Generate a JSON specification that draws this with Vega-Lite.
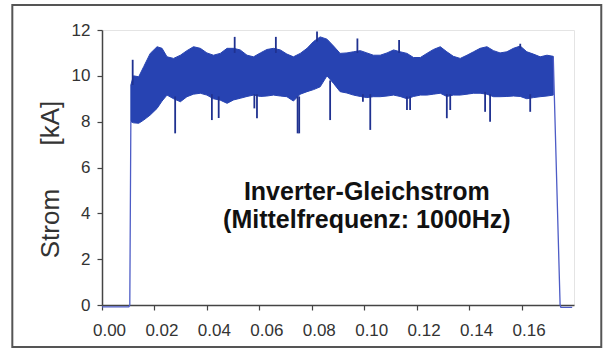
{
  "$schema": "https://vega.github.io/schema/vega-lite/v6.json",
  "width": 472,
  "height": 275,
  "autosize": {"type": "none"},
  "padding": {"left": 102, "top": 30, "right": 30, "bottom": 49},
  "background": "white",
  "config": {
    "view": {"stroke": "#e4e4e4", "strokeWidth": 1},
    "axis": {
      "grid": false,
      "domainColor": "#444",
      "domainWidth": 1.5,
      "tickColor": "#444",
      "tickWidth": 1.2,
      "tickSize": 5,
      "labelColor": "#333",
      "labelFont": "Liberation Sans",
      "labelFontSize": 17,
      "titleFont": "Liberation Sans",
      "titleColor": "#333",
      "titleFontWeight": "normal"
    }
  },
  "data": {"values": [{}]},
  "datasets": {
    "band": [
      {"t": 0.0110, "hi": 9.6, "lo": 8.0},
      {"t": 0.0120, "hi": 10.0, "lo": 7.95},
      {"t": 0.0140, "hi": 9.96, "lo": 7.93},
      {"t": 0.0159, "hi": 10.4, "lo": 8.07},
      {"t": 0.0184, "hi": 10.98, "lo": 8.29},
      {"t": 0.0210, "hi": 11.27, "lo": 8.58},
      {"t": 0.0229, "hi": 11.2, "lo": 8.9},
      {"t": 0.0248, "hi": 10.83, "lo": 9.16},
      {"t": 0.0273, "hi": 10.76, "lo": 9.0},
      {"t": 0.0299, "hi": 10.9, "lo": 8.87},
      {"t": 0.0324, "hi": 11.1, "lo": 9.09},
      {"t": 0.0349, "hi": 11.27, "lo": 9.2},
      {"t": 0.0375, "hi": 11.2, "lo": 9.24},
      {"t": 0.0400, "hi": 11.0, "lo": 9.16},
      {"t": 0.0425, "hi": 10.9, "lo": 9.0},
      {"t": 0.0451, "hi": 10.98, "lo": 8.94},
      {"t": 0.0477, "hi": 11.2, "lo": 8.8},
      {"t": 0.0502, "hi": 11.2, "lo": 8.95},
      {"t": 0.0527, "hi": 11.13, "lo": 9.02},
      {"t": 0.0553, "hi": 10.9, "lo": 9.1},
      {"t": 0.0578, "hi": 10.83, "lo": 9.16},
      {"t": 0.0604, "hi": 11.0, "lo": 9.1},
      {"t": 0.0629, "hi": 11.15, "lo": 9.12},
      {"t": 0.0654, "hi": 11.2, "lo": 9.16},
      {"t": 0.0680, "hi": 11.13, "lo": 9.12},
      {"t": 0.0705, "hi": 10.95, "lo": 9.09},
      {"t": 0.0730, "hi": 10.83, "lo": 8.9},
      {"t": 0.0756, "hi": 10.98, "lo": 9.2},
      {"t": 0.0782, "hi": 11.2, "lo": 9.31},
      {"t": 0.0807, "hi": 11.5, "lo": 9.4},
      {"t": 0.0832, "hi": 11.7, "lo": 9.52},
      {"t": 0.0858, "hi": 11.6, "lo": 10.0},
      {"t": 0.0883, "hi": 11.3, "lo": 9.67},
      {"t": 0.0908, "hi": 10.98, "lo": 9.31},
      {"t": 0.0934, "hi": 11.0, "lo": 9.25},
      {"t": 0.0959, "hi": 11.05, "lo": 9.16},
      {"t": 0.0985, "hi": 11.1, "lo": 9.1},
      {"t": 0.1010, "hi": 11.0, "lo": 9.05},
      {"t": 0.1035, "hi": 10.9, "lo": 9.09},
      {"t": 0.1061, "hi": 10.9, "lo": 9.09},
      {"t": 0.1087, "hi": 11.0, "lo": 9.12},
      {"t": 0.1112, "hi": 11.13, "lo": 9.16},
      {"t": 0.1137, "hi": 11.05, "lo": 9.1},
      {"t": 0.1163, "hi": 10.98, "lo": 9.0},
      {"t": 0.1188, "hi": 10.8, "lo": 9.1},
      {"t": 0.1214, "hi": 10.8, "lo": 9.16},
      {"t": 0.1239, "hi": 10.98, "lo": 9.16},
      {"t": 0.1264, "hi": 11.15, "lo": 9.2},
      {"t": 0.1290, "hi": 11.27, "lo": 9.24},
      {"t": 0.1315, "hi": 11.05, "lo": 9.1},
      {"t": 0.1340, "hi": 10.85, "lo": 9.16},
      {"t": 0.1366, "hi": 10.76, "lo": 9.16},
      {"t": 0.1392, "hi": 10.9, "lo": 9.2},
      {"t": 0.1417, "hi": 11.05, "lo": 9.24},
      {"t": 0.1442, "hi": 11.2, "lo": 9.24},
      {"t": 0.1468, "hi": 11.27, "lo": 9.2},
      {"t": 0.1493, "hi": 11.1, "lo": 9.09},
      {"t": 0.1518, "hi": 11.0, "lo": 9.09},
      {"t": 0.1544, "hi": 11.05, "lo": 9.1},
      {"t": 0.1569, "hi": 11.2, "lo": 9.12},
      {"t": 0.1595, "hi": 11.3, "lo": 9.1},
      {"t": 0.1620, "hi": 11.05, "lo": 9.0},
      {"t": 0.1645, "hi": 10.95, "lo": 9.05},
      {"t": 0.1671, "hi": 10.83, "lo": 9.09},
      {"t": 0.1697, "hi": 10.9, "lo": 9.12},
      {"t": 0.1721, "hi": 10.85, "lo": 9.16}
    ],
    "spikes": [
      {"t": 0.0117, "a": 9.6, "b": 10.7},
      {"t": 0.0279, "a": 9.1, "b": 7.49},
      {"t": 0.0419, "a": 9.2, "b": 8.07},
      {"t": 0.0445, "a": 9.1, "b": 8.16},
      {"t": 0.0581, "a": 9.2, "b": 8.58},
      {"t": 0.0591, "a": 9.2, "b": 8.15},
      {"t": 0.0746, "a": 9.1, "b": 7.49},
      {"t": 0.0752, "a": 9.1, "b": 7.49},
      {"t": 0.0870, "a": 9.8, "b": 8.07},
      {"t": 0.0995, "a": 9.2, "b": 8.87},
      {"t": 0.1023, "a": 9.2, "b": 7.64},
      {"t": 0.1163, "a": 9.1, "b": 8.51},
      {"t": 0.1175, "a": 9.1, "b": 8.51},
      {"t": 0.1315, "a": 9.2, "b": 8.15},
      {"t": 0.1328, "a": 9.2, "b": 8.51},
      {"t": 0.1461, "a": 9.3, "b": 8.43},
      {"t": 0.1480, "a": 9.2, "b": 8.0},
      {"t": 0.1633, "a": 9.2, "b": 8.43},
      {"t": 0.0506, "a": 11.0, "b": 11.7},
      {"t": 0.0663, "a": 11.0, "b": 11.7},
      {"t": 0.0820, "a": 11.5, "b": 11.93},
      {"t": 0.0974, "a": 11.0, "b": 11.63},
      {"t": 0.1133, "a": 11.0, "b": 11.56},
      {"t": 0.1595, "a": 11.2, "b": 11.4}
    ],
    "edges": [
      {"seg": "start", "t": 0.0, "i": -0.08},
      {"seg": "start", "t": 0.0102, "i": -0.08},
      {"seg": "start", "t": 0.0106, "i": 0.0},
      {"seg": "start", "t": 0.0110, "i": 8.0},
      {"seg": "end", "t": 0.1721, "i": 10.8},
      {"seg": "end", "t": 0.1747, "i": 0.0},
      {"seg": "end", "t": 0.1750, "i": -0.1},
      {"seg": "end", "t": 0.1793, "i": -0.1}
    ]
  },
  "layer": [
    {
      "data": {"name": "band"},
      "mark": {"type": "area", "color": "#2743b2", "opacity": 1, "stroke": "#2743b2", "strokeWidth": 1},
      "encoding": {
        "x": {
          "field": "t", "type": "quantitative",
          "scale": {"domain": [0, 0.18], "nice": false},
          "axis": {
            "values": [0, 0.02, 0.04, 0.06, 0.08, 0.1, 0.12, 0.14, 0.16],
            "format": ".2f",
            "title": null,
            "labelPadding": 12,
            "labelOffset": 7,
            "labelFlush": false
          }
        },
        "y": {
          "field": "hi", "type": "quantitative",
          "scale": {"domain": [0, 12], "nice": false},
          "axis": {
            "values": [0, 2, 4, 6, 8, 10, 12],
            "format": "d",
            "title": "Strom\u00a0\u00a0\u00a0\u00a0\u00a0\u00a0[kA]",
            "titleFontSize": 26,
            "titleX": -44,
            "titleY": 149,
            "titleAngle": -90,
            "titleAlign": "center",
            "titleBaseline": "alphabetic",
            "labelPadding": 7,
            "labelFlush": false
          }
        },
        "y2": {"field": "lo"}
      }
    },
    {
      "data": {"name": "spikes"},
      "mark": {"type": "rule", "color": "#1f3190", "strokeWidth": 1.8},
      "encoding": {
        "x": {"field": "t", "type": "quantitative"},
        "y": {"field": "a", "type": "quantitative"},
        "y2": {"field": "b"}
      }
    },
    {
      "data": {"name": "edges"},
      "mark": {"type": "line", "color": "#4d5cc6", "strokeWidth": 1.3},
      "encoding": {
        "x": {"field": "t", "type": "quantitative"},
        "y": {"field": "i", "type": "quantitative"},
        "detail": {"field": "seg"}
      }
    },
    {
      "mark": {"type": "rect", "fill": "transparent", "stroke": "#555", "strokeWidth": 2, "clip": false},
      "encoding": {
        "x": {"datum": -0.0342, "type": "quantitative"},
        "x2": {"datum": 0.1904},
        "y": {"datum": 13.09, "type": "quantitative"},
        "y2": {"datum": -1.83}
      }
    },
    {
      "mark": {"type": "text", "font": "Liberation Sans", "fontWeight": "bold", "fontSize": 25, "color": "#111", "align": "center", "baseline": "alphabetic", "lineHeight": 28},
      "encoding": {
        "x": {"datum": 0.101, "type": "quantitative"},
        "y": {"datum": 4.58, "type": "quantitative"},
        "text": {"value": ["Inverter-Gleichstrom", "(Mittelfrequenz: 1000Hz)"]}
      }
    }
  ]
}
